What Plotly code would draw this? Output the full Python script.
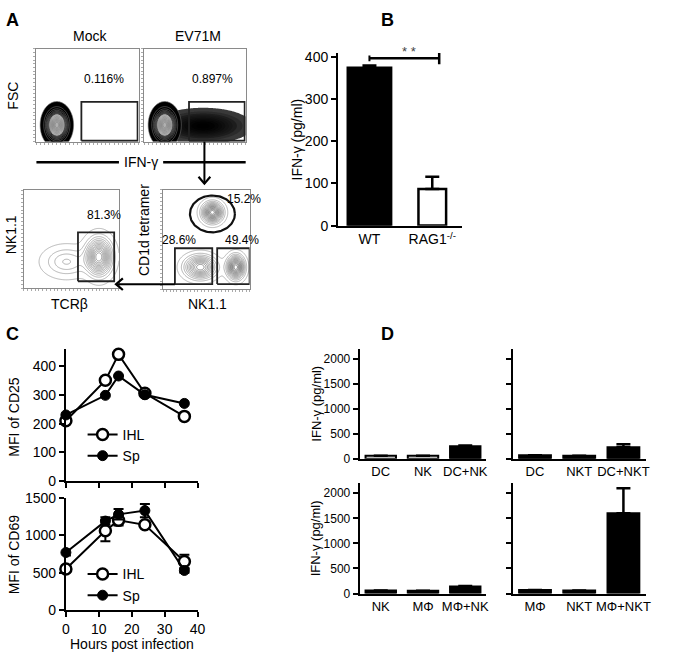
import numpy as np
import plotly.graph_objects as go

W, H = 683, 664
FONT = "Arial, Liberation Sans, sans-serif"

def dx(a, b):
    return [a / W, b / W]

def dy(top, bot):
    return [1 - bot / H, 1 - top / H]

def px(x):
    return x / W

def py(y):
    return 1 - y / H

# ---------------- DATA ----------------
# Panel A (flow cytometry): populations as (cx, cy, sx, sy, amplitude) in % of axis
mock_pops = [(20, 18, 5.5, 8.5, 1.0)]
ev71_pops = [(20, 18, 5.5, 8.5, 1.0)]
ev71_tail = [(58, 17, 20, 8, 1.0)]
tcr_pops = [(79, 32, 8, 11, 1.0), (45, 27, 14, 9, 0.25)]
cd1d_pops = [(57, 77, 7, 6, 1.0), (43, 22, 11, 7, 0.8), (84, 22, 6, 7, 1.0)]
mock_gate = (44, 99, 1, 43)
ev71_gate = (44, 99, 1, 43)
tcr_gate = (57, 95, 7, 57)
cd1d_left_gate = (13.6, 56.8, 5, 41)
cd1d_right_gate = (62.5, 100, 5, 41)
cd1d_oval = (57, 75.5, 26, 18.5)
mock_pct = "0.116%"
ev71_pct = "0.897%"
tcr_pct = "81.3%"
cd1d_pcts = ["15.2%", "28.6%", "49.4%"]

# Panel B
b_groups = ["WT", "RAG1<sup>-/-</sup>"]
b_values = [375, 87]
b_errors = [5, 29]

# Panel C
c_hours = [0, 12, 16, 24, 36]
cd25_ihl = [210, 350, 440, 305, 225]
cd25_sp = [230, 298, 365, 300, 270]
cd69_ihl = [550, 1060, 1200, 1140, 650]
cd69_ihl_err = [20, 140, 70, 30, 90]
cd69_sp = [770, 1190, 1280, 1330, 530]
cd69_sp_err = [40, 50, 70, 90, 30]

# Panel D
d_tl_cats = ["DC", "NK", "DC+NK"]
d_tl_vals = [60, 60, 250]
d_tl_err = [0, 0, 15]
d_tr_cats = ["DC", "NKT", "DC+NKT"]
d_tr_vals = [70, 60, 230]
d_tr_err = [0, 0, 60]
d_bl_cats = ["NK", "MΦ", "MΦ+NK"]
d_bl_vals = [60, 55, 140]
d_bl_err = [0, 0, 10]
d_br_cats = ["MΦ", "NKT", "MΦ+NKT"]
d_br_vals = [70, 60, 1600]
d_br_err = [0, 0, 500]

# ---------------- FIGURE ----------------
fig = go.Figure()
grid = np.linspace(0, 100, 151)
GX, GY = np.meshgrid(grid, grid)


def density(pops):
    z = np.zeros_like(GX)
    for cx, cy, sx, sy, a in pops:
        z += a * np.exp(-0.5 * ((GX - cx) / sx) ** 2 - 0.5 * ((GY - cy) / sy) ** 2)
    return z


def rect(g):
    x0, x1, y0, y1 = g
    return [x0, x1, x1, x0, x0], [y0, y0, y1, y1, y0]


CLEAR = "rgba(255,255,255,0)"
dense_scale = [[0, CLEAR], [0.012, CLEAR], [0.012, "black"], [0.42, "black"],
               [0.42, "#ececec"], [1, "#b0b0b0"]]
tail_scale = [[0, CLEAR], [0.05, CLEAR], [0.05, "#3a3a3a"], [0.3, "#1a1a1a"], [1, "#000"]]


def flow_axes(n):
    return ("x" if n == 1 else f"x{n}"), ("y" if n == 1 else f"y{n}")


# EV71M tail (high-IFN population)
xa, ya = flow_axes(2)
fig.add_trace(go.Contour(x=grid, y=grid, z=density(ev71_tail), xaxis=xa, yaxis=ya,
                         showscale=False, zmin=0, zmax=1, colorscale=tail_scale,
                         contours=dict(coloring="fill", start=0.05, end=1, size=0.1),
                         line=dict(width=0), hoverinfo="skip"))

for n, pops, gate in [(1, mock_pops, mock_gate), (2, ev71_pops, ev71_gate)]:
    xa, ya = flow_axes(n)
    fig.add_trace(go.Contour(x=grid, y=grid, z=density(pops), xaxis=xa, yaxis=ya,
                             showscale=False, zmin=0, zmax=1, colorscale=dense_scale,
                             contours=dict(coloring="fill", start=0.012, end=1, size=0.055),
                             line=dict(color="#7a7a7a", width=0.6), hoverinfo="skip"))
    gx, gy = rect(gate)
    fig.add_trace(go.Scatter(x=gx, y=gy, mode="lines", xaxis=xa, yaxis=ya,
                             line=dict(color="#222", width=1.8), showlegend=False, hoverinfo="skip"))

fig.add_trace(go.Contour(x=grid, y=grid, z=density(tcr_pops), xaxis="x3", yaxis="y3",
                         showscale=False, colorscale=[[0, "#999"], [1, "#777"]],
                         contours=dict(coloring="lines", start=0.03, end=1, size=0.07),
                         line=dict(width=0.7), hoverinfo="skip"))
gx, gy = rect(tcr_gate)
fig.add_trace(go.Scatter(x=gx, y=gy, mode="lines", xaxis="x3", yaxis="y3",
                         line=dict(color="#222", width=1.8), showlegend=False, hoverinfo="skip"))

fig.add_trace(go.Contour(x=grid, y=grid, z=density(cd1d_pops), xaxis="x4", yaxis="y4",
                         showscale=False, colorscale=[[0, "#999"], [1, "#555"]],
                         contours=dict(coloring="lines", start=0.04, end=1, size=0.07),
                         line=dict(width=0.7), hoverinfo="skip"))
for g in [cd1d_left_gate, cd1d_right_gate]:
    gx, gy = rect(g)
    fig.add_trace(go.Scatter(x=gx, y=gy, mode="lines", xaxis="x4", yaxis="y4",
                             line=dict(color="#222", width=1.8), showlegend=False,
                             hoverinfo="skip"))
t = np.linspace(0, 2 * np.pi, 120)
ocx, ocy, orx, ory = cd1d_oval
fig.add_trace(go.Scatter(x=ocx + orx * np.cos(t), y=ocy + ory * np.sin(t), mode="lines",
                         xaxis="x4", yaxis="y4", line=dict(color="#111", width=2.2),
                         showlegend=False, hoverinfo="skip"))

# Panel B
fig.add_trace(go.Bar(x=b_groups, y=b_values, xaxis="x5", yaxis="y5", width=[0.69, 0.44],
                     marker=dict(color=["black", "white"], line=dict(color="black", width=2.5)),
                     error_y=dict(type="data", symmetric=False, array=b_errors,
                                  arrayminus=[0, 0], color="black", thickness=2.5, width=7),
                     showlegend=False))

# Panel C
open_m = dict(symbol="circle", size=11, color="white", line=dict(color="black", width=2.5))
fill_m = dict(symbol="circle", size=10, color="black", line=dict(color="black", width=1))
fig.add_trace(go.Scatter(x=c_hours, y=cd25_ihl, name="IHL", xaxis="x6", yaxis="y6",
                         mode="lines+markers", line=dict(color="black", width=2), marker=open_m,
                         cliponaxis=False, legend="legend"))
fig.add_trace(go.Scatter(x=c_hours, y=cd25_sp, name="Sp", xaxis="x6", yaxis="y6",
                         mode="lines+markers", line=dict(color="black", width=2), marker=fill_m,
                         cliponaxis=False, legend="legend"))
fig.add_trace(go.Scatter(x=c_hours, y=cd69_ihl, name="IHL", xaxis="x7", yaxis="y7",
                         mode="lines+markers", line=dict(color="black", width=2), marker=open_m,
                         error_y=dict(type="data", array=cd69_ihl_err, color="black", thickness=2, width=5),
                         cliponaxis=False, legend="legend2"))
fig.add_trace(go.Scatter(x=c_hours, y=cd69_sp, name="Sp", xaxis="x7", yaxis="y7",
                         mode="lines+markers", line=dict(color="black", width=2), marker=fill_m,
                         error_y=dict(type="data", array=cd69_sp_err, color="black", thickness=2, width=5),
                         cliponaxis=False, legend="legend2"))

# Panel D
for n, cats, vals, errs, fills in [
    (8, d_tl_cats, d_tl_vals, d_tl_err, ["white", "white", "black"]),
    (9, d_tr_cats, d_tr_vals, d_tr_err, ["black"] * 3),
    (10, d_bl_cats, d_bl_vals, d_bl_err, ["black"] * 3),
    (11, d_br_cats, d_br_vals, d_br_err, ["black"] * 3),
]:
    fig.add_trace(go.Bar(x=cats, y=vals, xaxis=f"x{n}", yaxis=f"y{n}", width=0.72,
                         marker=dict(color=fills, line=dict(color="black", width=2)),
                         error_y=dict(type="data", symmetric=False, array=errs,
                                      arrayminus=[0] * 3, color="black", thickness=2.5, width=7),
                         showlegend=False))

# ---------------- AXES ----------------
lay = {}
flow_dom = {1: ((33, 137), (42, 137)), 2: ((143, 246), (42, 137)),
            3: ((20, 117), (187, 287)), 4: ((162, 250), (186, 288))}
for n, (xd, yd) in flow_dom.items():
    s = "" if n == 1 else str(n)
    common = dict(range=[0, 100], showticklabels=False, ticks="outside", ticklen=2,
                  tickcolor="#aaa", dtick=4, showgrid=False, zeroline=False, showline=True,
                  linecolor="#8a8a8a", linewidth=1, mirror=True, fixedrange=True)
    lay[f"xaxis{s}"] = dict(domain=dx(*xd), anchor=f"y{s}", **common)
    lay[f"yaxis{s}"] = dict(domain=dy(*yd), anchor=f"x{s}", **common)

blk = dict(showgrid=False, zeroline=False, showline=True, linecolor="black", linewidth=2,
           ticks="outside", ticklen=5, tickwidth=2, tickcolor="black", fixedrange=True,
           tickfont=dict(family=FONT, size=14, color="black"))

# B
lay["xaxis5"] = dict(domain=dx(340, 466), anchor="y5", type="category", range=[-0.5, 1.47],
                     **{**blk, "ticks": ""})
lay["yaxis5"] = dict(domain=dy(46, 223), anchor="x5", range=[0, 410], tickvals=[0, 100, 200, 300, 400],
                     **blk)
# C
lay["xaxis6"] = dict(domain=dx(63, 197), anchor="y6", range=[0, 40], dtick=10, showticklabels=False, **blk)
lay["yaxis6"] = dict(domain=dy(349, 485), anchor="x6", range=[0, 460], tickvals=[0, 100, 200, 300, 400], **blk)
lay["xaxis7"] = dict(domain=dx(63, 197), anchor="y7", range=[0, 40], dtick=10, **blk)
lay["yaxis7"] = dict(domain=dy(502, 617), anchor="x7", range=[0, 1500], tickvals=[0, 500, 1000, 1500], **blk)
# D
dblk = {**blk, "tickfont": dict(family=FONT, size=13, color="black")}
dfont12 = {**blk, "tickfont": dict(family=FONT, size=12, color="black")}
dpos = {8: ((362, 491), (349, 462)), 9: ((518, 653), (349, 462)),
        10: ((362, 491), (487, 600)), 11: ((518, 653), (487, 600))}
for n, (xd, yd) in dpos.items():
    lay[f"xaxis{n}"] = dict(domain=dx(*xd), anchor=f"y{n}", type="category", range=[-0.5, 2.5],
                            **{**dblk, "ticks": ""})
    lay[f"yaxis{n}"] = dict(domain=dy(*yd), anchor=f"x{n}", range=[0, 2200],
                            tickvals=[0, 500, 1000, 1500, 2000],
                            showticklabels=(n in (8, 10)), **dfont12)

# ---------------- ANNOTATIONS & SHAPES ----------------
ann = []


def txt(x, y, s, size=13, angle=0, bold=False, color="black", xanchor="center"):
    ann.append(dict(x=px(x), y=py(y), xref="paper", yref="paper", text=f"<b>{s}</b>" if bold else s,
                    showarrow=False, textangle=angle, xanchor=xanchor, yanchor="middle",
                    font=dict(family=FONT, size=size, color=color)))


txt(9, 12, "A", 18, bold=True)
txt(390, 12, "B", 18, bold=True)
txt(9, 334, "C", 18, bold=True)
txt(390, 334, "D", 18, bold=True)

txt(88, 29, "Mock", 14)
txt(197, 29, "EV71M", 14)
txt(9, 90, "FSC", 14, angle=-90)
txt(102, 73, mock_pct, 12)
txt(212, 73, ev71_pct, 12)
txt(139, 158, "IFN-γ", 14)
txt(8, 232, "NK1.1", 14, angle=-90)
txt(67, 303, "TCRβ", 14)
txt(207, 303, "NK1.1", 14)
txt(142, 228, "CD1d tetramer", 14, angle=-90)
txt(102, 212, tcr_pct, 12)
txt(244, 196, cd1d_pcts[0], 12)
txt(178, 238, cd1d_pcts[1], 12)
txt(242, 238, cd1d_pcts[2], 12)

txt(298, 135, "IFN-γ (pg/ml)", 14, angle=-90)
txt(412, 45, "* *", 13, color="#444")

txt(10, 419, "MFI of CD25", 14, angle=-90)
txt(10, 560, "MFI of CD69", 14, angle=-90)
txt(130, 652, "Hours post infection", 14)

txt(318, 405, "IFN-γ (pg/ml)", 13, angle=-90)
txt(318, 543, "IFN-γ (pg/ml)", 13, angle=-90)


def pline(x0, y0, x1, y1, w=2.5):
    return dict(type="line", xref="paper", yref="paper", x0=px(x0), x1=px(x1), y0=py(y0), y1=py(y1),
                line=dict(color="black", width=w))


def ppath(pts, w=2.2):
    d = "M " + " L ".join(f"{px(a):.5f},{py(b):.5f}" for a, b in pts)
    return dict(type="path", xref="paper", yref="paper", path=d, line=dict(color="black", width=w))


shapes = [
    pline(33, 158, 117, 158),
    pline(162, 158, 246, 158),
    # arrow from EV71M gate down to NK1.1/CD1d plot
    pline(204, 137, 204, 180, 2),
    ppath([(198, 173), (204, 180), (210, 173)]),
    # arrow from NKT gate to TCRb plot
    pline(174, 283, 114, 283, 2),
    ppath([(121, 277), (114, 283), (121, 289)]),
    # significance bracket in panel B
    dict(type="line", xref="x5", yref="y5", x0=0, x1=1.11, y0=397, y1=397, line=dict(color="black", width=2.5)),
    dict(type="line", xref="x5", yref="y5", x0=1.11, x1=1.11, y0=383, y1=411, line=dict(color="black", width=2.5)),
    dict(type="line", xref="x5", yref="y5", x0=0, x1=0, y0=390, y1=404, line=dict(color="black", width=2)),
]

leg_common = dict(font=dict(family=FONT, size=14, color="black"), bgcolor="rgba(0,0,0,0)",
                  itemwidth=30, tracegroupgap=0, xanchor="left", yanchor="top")
lay["legend"] = dict(x=px(80), y=py(421), **leg_common)
lay["legend2"] = dict(x=px(80), y=py(564), **leg_common)

fig.update_layout(width=W, height=H, margin=dict(l=0, r=0, t=0, b=0, pad=0),
                  paper_bgcolor="white", plot_bgcolor="white",
                  font=dict(family=FONT, color="black"), annotations=ann, shapes=shapes,
                  bargap=0.3, **lay)
fig.write_html("out.html", config={"displayModeBar": False},
               post_script="document.body.style.margin='0px';document.body.style.padding='0px';"
                           "document.body.style.overflow='hidden';")
